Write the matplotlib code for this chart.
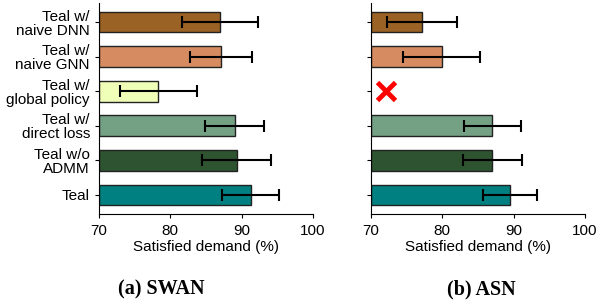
import matplotlib
matplotlib.use("Agg")
import matplotlib.pyplot as plt
import numpy as np

# Rows from bottom to top
labels = ["Teal", "Teal w/o\nADMM", "Teal w/\ndirect loss", "Teal w/\nglobal policy",
          "Teal w/\nnaive GNN", "Teal w/\nnaive DNN"]
colors = ["#008080", "#2D5330", "#74A084", "#F0FFB8", "#D68C60", "#9A6224"]

swan_vals = [91.3, 89.3, 89.0, 78.3, 87.1, 87.0]
swan_err = [4.0, 4.8, 4.2, 5.4, 4.3, 5.3]

asn_vals = [89.5, 87.0, 87.0, np.nan, 79.9, 77.1]
asn_err = [3.8, 4.1, 4.0, np.nan, 5.4, 4.9]
asn_missing_x = 72.1  # red cross for the missing ASN result

plt.rcParams["font.family"] = ["Liberation Sans", "DejaVu Sans"]
plt.rcParams["font.size"] = 11

fig = plt.figure(figsize=(6.0, 3.06), dpi=100)
ax1 = fig.add_axes([99 / 600, 1 - 214 / 306, 214 / 600, 211 / 306])
ax2 = fig.add_axes([371 / 600, 1 - 214 / 306, 214 / 600, 211 / 306])

y = np.arange(len(labels))


def draw(ax, vals, errs):
    v = np.array(vals, dtype=float)
    e = np.array(errs, dtype=float)
    ok = ~np.isnan(v)
    ax.barh(y[ok], v[ok] - 70, left=70, height=0.6,
            color=np.array(colors)[ok], edgecolor="#222222", linewidth=1.0)
    ax.errorbar(v[ok], y[ok], xerr=e[ok], fmt="none", ecolor="black",
                elinewidth=1.5, capsize=4, capthick=1.5)
    ax.set_xlim(70, 100)
    ax.set_ylim(-0.55, len(labels) - 0.45)
    ax.set_xticks([70, 80, 90, 100])
    ax.set_yticks(y)
    ax.spines["top"].set_visible(False)
    ax.spines["right"].set_visible(False)
    ax.tick_params(direction="out", length=3)
    ax.tick_params(axis="x", pad=4)
    ax.set_xlabel("Satisfied demand (%)", labelpad=2)


draw(ax1, swan_vals, swan_err)
ax1.set_yticklabels(labels, linespacing=1.0)

draw(ax2, asn_vals, asn_err)
ax2.set_yticklabels([])
missing = [i for i, v in enumerate(asn_vals) if np.isnan(v)]
ax2.plot([asn_missing_x] * len(missing), missing, marker="x", color="red",
         markersize=13, markeredgewidth=3.5, linestyle="none")

fig.text(161 / 600, 1 - 289 / 306, "(a) SWAN", ha="center", va="center",
         fontsize=14.5, fontweight="bold", family=["Liberation Serif", "DejaVu Serif"])
fig.text(481 / 600, 1 - 289 / 306, "(b) ASN", ha="center", va="center",
         fontsize=14.5, fontweight="bold", family=["Liberation Serif", "DejaVu Serif"])

fig.savefig("out.png", dpi=100)
